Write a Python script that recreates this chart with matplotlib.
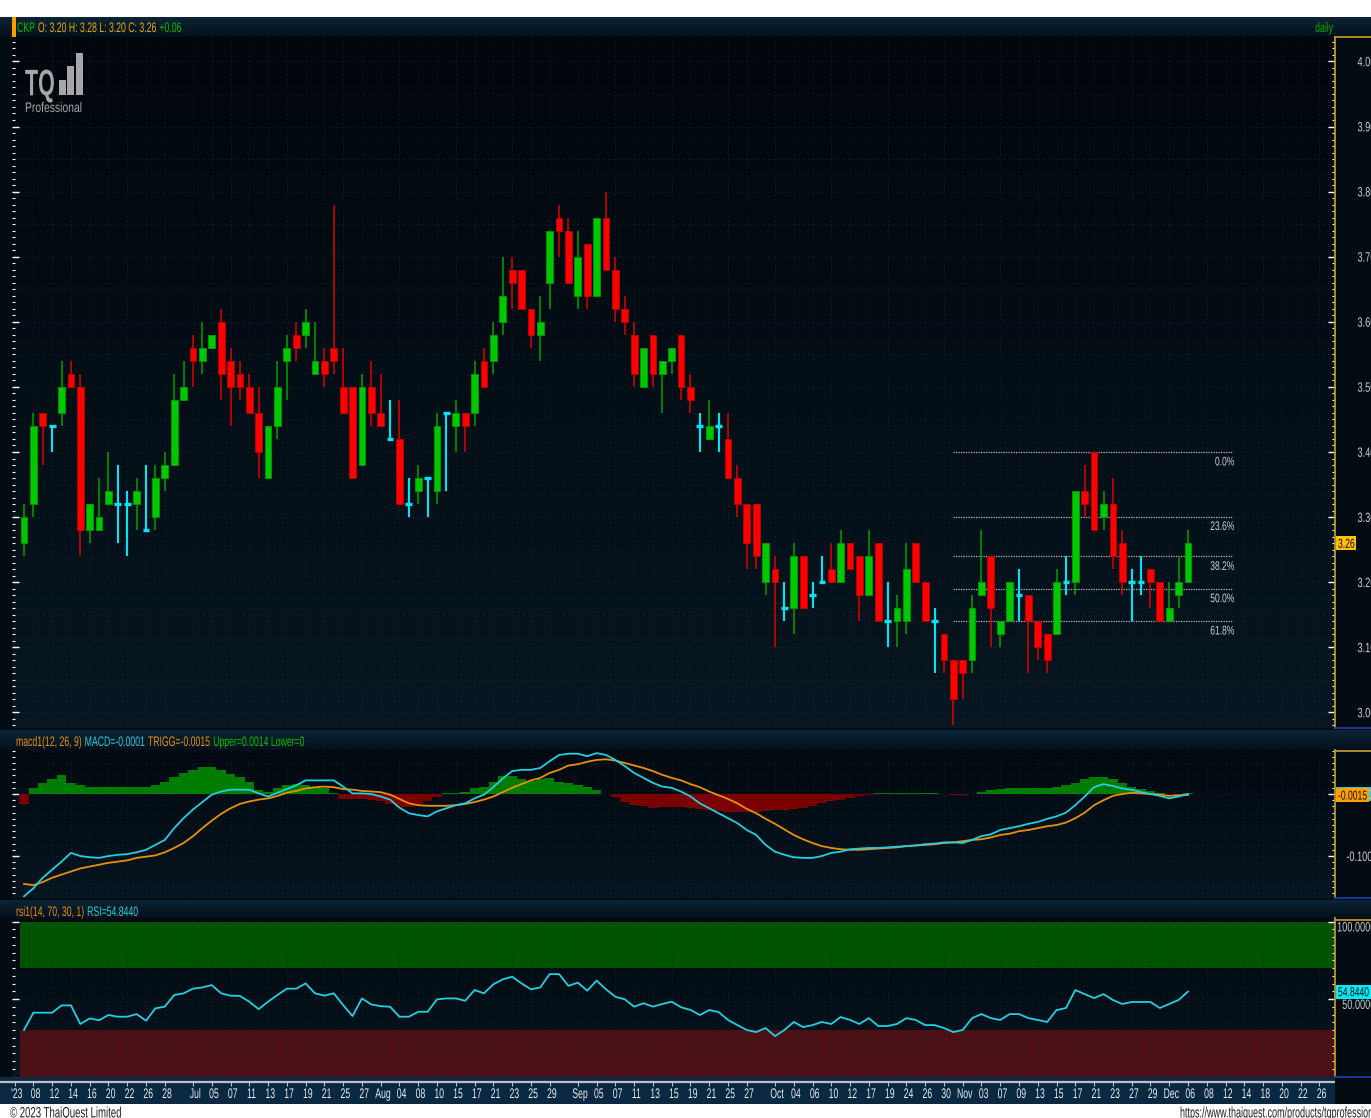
import numpy as np
import matplotlib
matplotlib.use("Agg")
import matplotlib.pyplot as plt
import matplotlib.transforms as mtransforms
from matplotlib.colors import LinearSegmentedColormap
from matplotlib.patches import Rectangle, PathPatch
from matplotlib.lines import Line2D
from matplotlib.textpath import TextPath
from matplotlib.font_manager import FontProperties
from matplotlib.ticker import MultipleLocator, FixedLocator

# ---- CKP daily (bar 0 = 7 Jun 2023, bar 124 = 6 Dec 2023) ----
opens = [3.26, 3.32, 3.46, 3.44, 3.46, 3.52, 3.50, 3.28, 3.28, 3.32,
         3.32, 3.32, 3.32, 3.28, 3.30, 3.36, 3.38, 3.48, 3.56, 3.54,
         3.56, 3.60, 3.54, 3.52, 3.50, 3.46, 3.36, 3.44, 3.54, 3.58,
         3.58, 3.52, 3.54, 3.56, 3.50, 3.50, 3.38, 3.50, 3.46, 3.42,
         3.42, 3.32, 3.34, 3.36, 3.34, 3.46, 3.44, 3.46, 3.46, 3.54,
         3.54, 3.60, 3.68, 3.68, 3.62, 3.58, 3.66, 3.76, 3.74, 3.64,
         3.72, 3.64, 3.76, 3.68, 3.62, 3.58, 3.50, 3.58, 3.52, 3.54,
         3.58, 3.50, 3.44, 3.42, 3.44, 3.42, 3.36, 3.32, 3.32, 3.20,
         3.22, 3.16, 3.16, 3.24, 3.18, 3.20, 3.22, 3.20, 3.26, 3.24,
         3.18, 3.26, 3.14, 3.14, 3.14, 3.26, 3.20, 3.14, 3.12, 3.08,
         3.08, 3.08, 3.18, 3.24, 3.12, 3.14, 3.18, 3.18, 3.14, 3.12,
         3.12, 3.20, 3.20, 3.34, 3.40, 3.30, 3.32, 3.26, 3.20, 3.20,
         3.22, 3.20, 3.14, 3.18, 3.20]
highs = [3.32, 3.46, 3.46, 3.44, 3.54, 3.54, 3.52, 3.32, 3.36, 3.40,
         3.38, 3.34, 3.36, 3.38, 3.38, 3.40, 3.52, 3.54, 3.58, 3.60,
         3.58, 3.62, 3.56, 3.54, 3.52, 3.50, 3.44, 3.54, 3.58, 3.60,
         3.62, 3.60, 3.56, 3.78, 3.56, 3.50, 3.52, 3.54, 3.52, 3.48,
         3.48, 3.36, 3.38, 3.36, 3.46, 3.46, 3.48, 3.46, 3.54, 3.56,
         3.60, 3.70, 3.70, 3.68, 3.62, 3.64, 3.74, 3.78, 3.76, 3.74,
         3.72, 3.76, 3.80, 3.70, 3.64, 3.60, 3.56, 3.58, 3.54, 3.56,
         3.58, 3.52, 3.46, 3.48, 3.46, 3.46, 3.38, 3.32, 3.32, 3.26,
         3.24, 3.20, 3.26, 3.24, 3.20, 3.24, 3.26, 3.28, 3.26, 3.24,
         3.28, 3.26, 3.20, 3.18, 3.26, 3.26, 3.20, 3.16, 3.12, 3.08,
         3.08, 3.18, 3.28, 3.24, 3.14, 3.20, 3.22, 3.18, 3.14, 3.12,
         3.22, 3.24, 3.34, 3.38, 3.40, 3.34, 3.36, 3.28, 3.22, 3.24,
         3.22, 3.20, 3.20, 3.24, 3.28]
lows = [3.24, 3.30, 3.38, 3.40, 3.44, 3.50, 3.24, 3.26, 3.28, 3.32,
        3.26, 3.24, 3.28, 3.28, 3.28, 3.34, 3.38, 3.48, 3.50, 3.52,
        3.56, 3.48, 3.44, 3.48, 3.46, 3.36, 3.36, 3.42, 3.48, 3.54,
        3.56, 3.52, 3.50, 3.52, 3.46, 3.36, 3.38, 3.44, 3.44, 3.42,
        3.32, 3.30, 3.32, 3.30, 3.32, 3.34, 3.40, 3.40, 3.44, 3.50,
        3.52, 3.58, 3.62, 3.62, 3.56, 3.54, 3.62, 3.70, 3.66, 3.62,
        3.62, 3.64, 3.68, 3.60, 3.58, 3.50, 3.50, 3.50, 3.46, 3.52,
        3.48, 3.46, 3.40, 3.42, 3.40, 3.36, 3.30, 3.22, 3.22, 3.18,
        3.10, 3.14, 3.12, 3.16, 3.16, 3.20, 3.20, 3.20, 3.22, 3.14,
        3.18, 3.14, 3.10, 3.10, 3.12, 3.20, 3.14, 3.06, 3.06, 2.98,
        3.02, 3.06, 3.18, 3.10, 3.10, 3.14, 3.14, 3.06, 3.08, 3.06,
        3.12, 3.18, 3.18, 3.30, 3.28, 3.28, 3.22, 3.18, 3.14, 3.18,
        3.16, 3.14, 3.14, 3.16, 3.20]
closes = [3.30, 3.44, 3.44, 3.44, 3.50, 3.50, 3.28, 3.32, 3.30, 3.34,
          3.32, 3.32, 3.34, 3.28, 3.36, 3.38, 3.48, 3.50, 3.54, 3.56,
          3.58, 3.52, 3.50, 3.50, 3.46, 3.40, 3.44, 3.50, 3.56, 3.56,
          3.60, 3.54, 3.52, 3.54, 3.46, 3.36, 3.50, 3.46, 3.44, 3.42,
          3.32, 3.32, 3.36, 3.36, 3.44, 3.46, 3.46, 3.44, 3.52, 3.50,
          3.58, 3.64, 3.66, 3.62, 3.58, 3.60, 3.74, 3.74, 3.66, 3.70,
          3.64, 3.76, 3.68, 3.62, 3.60, 3.52, 3.56, 3.52, 3.54, 3.56,
          3.50, 3.48, 3.44, 3.44, 3.44, 3.36, 3.32, 3.26, 3.24, 3.26,
          3.20, 3.16, 3.24, 3.16, 3.18, 3.20, 3.20, 3.26, 3.22, 3.18,
          3.24, 3.14, 3.14, 3.16, 3.22, 3.20, 3.14, 3.14, 3.08, 3.02,
          3.06, 3.16, 3.20, 3.16, 3.14, 3.20, 3.18, 3.14, 3.10, 3.08,
          3.20, 3.20, 3.34, 3.32, 3.28, 3.32, 3.24, 3.20, 3.20, 3.20,
          3.20, 3.14, 3.16, 3.20, 3.26]

macd_line = [-0.165, -0.152, -0.135, -0.122, -0.109, -0.095, -0.100, -0.102, -0.103, -0.100,
             -0.098, -0.097, -0.094, -0.090, -0.082, -0.074, -0.055, -0.039, -0.025, -0.013,
             -0.001, 0.004, 0.007, 0.007, 0.007, 0.001, -0.004, 0.002, 0.008, 0.014,
             0.022, 0.022, 0.022, 0.022, 0.012, 0.001, 0.001, 0.000, -0.004, -0.009,
             -0.022, -0.031, -0.034, -0.036, -0.028, -0.023, -0.018, -0.015, -0.007, -0.001,
             0.011, 0.025, 0.037, 0.039, 0.039, 0.042, 0.053, 0.063, 0.065, 0.065,
             0.061, 0.066, 0.063, 0.055, 0.045, 0.034, 0.026, 0.018, 0.012, 0.010,
             0.004, -0.004, -0.015, -0.023, -0.031, -0.039, -0.047, -0.058, -0.066, -0.082,
             -0.093, -0.098, -0.102, -0.103, -0.103, -0.100, -0.095, -0.093, -0.089, -0.088,
             -0.087, -0.087, -0.086, -0.085, -0.084, -0.083, -0.081, -0.080, -0.078, -0.078,
             -0.079, -0.074, -0.068, -0.065, -0.058, -0.055, -0.052, -0.048, -0.045, -0.040,
             -0.036, -0.030, -0.018, -0.004, 0.011, 0.016, 0.013, 0.009, 0.007, 0.003,
             0.000, -0.003, -0.007, -0.004, -0.0001]
macd_trigger = [-0.145, -0.147, -0.142, -0.135, -0.130, -0.125, -0.120, -0.117, -0.114, -0.111,
                -0.109, -0.107, -0.103, -0.101, -0.099, -0.094, -0.087, -0.079, -0.068, -0.055,
                -0.043, -0.032, -0.023, -0.016, -0.012, -0.009, -0.007, -0.003, 0.002, 0.005,
                0.009, 0.011, 0.012, 0.011, 0.008, 0.007, 0.005, 0.004, 0.003, -0.001,
                -0.008, -0.015, -0.018, -0.019, -0.019, -0.019, -0.018, -0.016, -0.013, -0.009,
                -0.004, 0.003, 0.010, 0.016, 0.022, 0.026, 0.034, 0.039, 0.046, 0.048,
                0.052, 0.055, 0.056, 0.054, 0.050, 0.046, 0.042, 0.037, 0.031, 0.026,
                0.022, 0.016, 0.011, 0.004, -0.002, -0.008, -0.015, -0.024, -0.031, -0.040,
                -0.048, -0.057, -0.066, -0.073, -0.079, -0.084, -0.087, -0.089, -0.090, -0.090,
                -0.089, -0.088, -0.087, -0.086, -0.084, -0.083, -0.082, -0.081, -0.079, -0.078,
                -0.076, -0.074, -0.073, -0.070, -0.066, -0.064, -0.060, -0.058, -0.055, -0.052,
                -0.050, -0.046, -0.039, -0.030, -0.018, -0.010, -0.003, 0.000, 0.002, 0.001,
                0.000, -0.001, -0.003, -0.002, -0.0015]
macd_hist = [-0.016, 0.010, 0.018, 0.025, 0.030, 0.018, 0.014, 0.011, 0.012, 0.011,
             0.011, 0.011, 0.012, 0.011, 0.015, 0.020, 0.027, 0.034, 0.039, 0.043,
             0.043, 0.039, 0.032, 0.027, 0.020, 0.007, 0.004, 0.010, 0.014, 0.016,
             0.014, 0.012, 0.010, 0.002, -0.0075, -0.0075, -0.0075, -0.009, -0.012, -0.016,
             -0.0215, -0.0215, -0.016, -0.011, -0.004, 0.002, 0.002, 0.004, 0.009, 0.011,
             0.020, 0.0285, 0.0285, 0.025, 0.0215, 0.025, 0.026, 0.020, 0.018, 0.014,
             0.011, 0.007, 0.000, -0.004, -0.013, -0.017, -0.019, -0.023, -0.0215, -0.0215,
             -0.0215, -0.023, -0.024, -0.025, -0.027, -0.029, -0.029, -0.029, -0.029, -0.027,
             -0.026, -0.026, -0.024, -0.022, -0.019, -0.015, -0.012, -0.009, -0.006, -0.003,
             -0.001, 0.001, 0.002, 0.002, 0.002, 0.002, 0.001, 0.001, 0.000, -0.002,
             -0.002, 0.000, 0.004, 0.006, 0.008, 0.009, 0.010, 0.010, 0.010, 0.010,
             0.012, 0.014, 0.018, 0.024, 0.028, 0.028, 0.024, 0.018, 0.012, 0.008,
             0.005, 0.002, 0.000, -0.001, 0.001]
rsi = [30.0, 41.2, 41.2, 41.2, 45.9, 45.9, 33.9, 37.5, 36.3, 39.7,
       38.6, 38.6, 40.3, 36.0, 44.0, 45.1, 52.6, 53.7, 56.7, 57.5,
       59.0, 53.7, 52.2, 52.0, 48.3, 43.5, 48.3, 52.6, 56.7, 56.7,
       60.1, 53.7, 52.2, 53.7, 46.1, 39.0, 50.4, 46.5, 45.4, 45.0,
       38.6, 38.6, 41.8, 41.8, 49.8, 50.4, 50.4, 48.9, 55.8, 53.7,
       59.5, 62.7, 64.4, 60.1, 56.3, 57.5, 66.1, 66.1, 58.5, 60.6,
       55.4, 61.9, 56.3, 51.5, 49.8, 45.1, 47.3, 45.1, 46.8, 48.3,
       44.7, 43.0, 39.7, 42.9, 41.6, 36.5, 33.2, 30.0, 28.7, 31.3,
       26.1, 30.0, 35.2, 31.9, 33.2, 35.2, 33.9, 38.4, 36.5, 33.9,
       37.7, 32.6, 32.6, 33.9, 37.7, 36.5, 33.2, 33.2, 31.3, 28.7,
       30.0, 37.7, 40.3, 37.7, 36.5, 40.3, 40.3, 37.7, 36.5, 35.2,
       42.9, 44.2, 55.8, 53.2, 50.6, 53.2, 49.4, 46.8, 48.1, 48.1,
       48.1, 44.2, 46.8, 49.4, 54.844]

tick_pos = [-1, 1, 3, 5, 7, 9, 11, 13, 15, 18, 20, 22, 24, 26, 28, 30, 32, 34, 36,
            38, 40, 42, 44, 46, 48, 50, 52, 54, 56, 59, 61, 63, 65, 67, 69, 71, 73, 75, 77,
            80, 82, 84, 86, 88, 90, 92, 94, 96, 98, 100, 102, 104, 106, 108, 110, 112, 114,
            116, 118, 120, 122, 124, 126, 128, 130, 132, 134, 136, 138]
tick_lab = ["'23", "08", "12", "14", "16", "20", "22", "26", "28",
            "Jul", "05", "07", "11", "13", "17", "19", "21", "25", "27",
            "Aug", "04", "08", "10", "15", "17", "21", "23", "25", "29",
            "Sep", "05", "07", "11", "13", "15", "19", "21", "25", "27",
            "Oct", "04", "06", "10", "12", "17", "19", "24", "26", "30",
            "Nov", "03", "07", "09", "13", "15", "17", "21", "23", "27", "29",
            "Dec", "06", "08", "12", "14", "18", "20", "22", "26"]

price_ticks = [3.0, 3.1, 3.2, 3.3, 3.4, 3.5, 3.6, 3.7, 3.8, 3.9, 4.0]
macd_ticks = [-0.1, 0.0]
rsi_ticks = [50, 100]

fib_high, fib_low = 3.40, 2.98
fib_ratios = [0.0, 0.236, 0.382, 0.5, 0.618]
fib_from, fib_to = 99, 128.8

# ---- layout helpers (pixel coords of the 1371x1118 picture, y from the top) ----
W, H = 1371, 1118
BAR, X0 = 9.387, 24.0
plt.rcParams['font.family'] = ['Liberation Sans', 'DejaVu Sans']
FP = FontProperties(family='Liberation Sans')
FPB = FontProperties(family='Liberation Sans', weight='bold')
IDT = mtransforms.IdentityTransform()

fig = plt.figure(figsize=(W / 100, H / 100), dpi=100, facecolor='white')


def px_axes(x0, y0, x1, y1):
    return fig.add_axes([x0 / W, 1 - y1 / H, (x1 - x0) / W, (y1 - y0) / H])


def xl(a, b):
    return ((a - X0) / BAR, (b - X0) / BAR)


def gradient(ax, top, bottom):
    cm = LinearSegmentedColormap.from_list('g', [bottom, top])
    ax.imshow(np.linspace(0, 1, 64).reshape(-1, 1), cmap=cm, origin='lower',
              extent=[0, 1, 0, 1], transform=ax.transAxes, aspect='auto',
              zorder=0, interpolation='bilinear')


def fline(x0, y0, x1, y1, color, lw=1.0):
    fig.add_artist(Line2D([x0, x1], [H - y0, H - y1], transform=IDT, color=color, lw=lw,
                          zorder=15))


def frect(x0, y0, x1, y1, color, z=16):
    fig.add_artist(Rectangle((x0, H - y1), x1 - x0, y1 - y0, transform=IDT, color=color,
                             lw=0, zorder=z))


def ctext(x, y, s, color, em, sx=0.64, ha='left', z=20, prop=FP):
    # condensed terminal font: glyph outlines squeezed horizontally
    tp = TextPath((0, 0), s, size=em, prop=prop)
    w = tp.get_extents().x1 * sx
    x0 = x - w if ha == 'right' else (x - w / 2 if ha == 'center' else x)
    tr = mtransforms.Affine2D().scale(sx, 1).translate(x0, H - y - 0.36 * em)
    fig.add_artist(PathPatch(tp, transform=tr, fc=color, ec='none', lw=0, zorder=z))
    return w


def chain(x, y, parts, em=13.8, sx=0.63):
    for s, col in parts:
        x += ctext(x, y, s, col, em, sx) + 3.5


def ypx(ax, v):
    return H - ax.transData.transform((0, v))[1]


def header(y0, y1):
    hx = px_axes(0, y0, W, y1)
    gradient(hx, '#0d2435', '#03101a')
    hx.set_xlim(0, 1); hx.set_ylim(0, 1)
    hx.axis('off')


GOLD = '#b8962e'
GRID = '#0d2434'
LABEL = '#c8ccd2'


def panel(ax, ylim):
    ax.set_facecolor('none')
    ax.set_xlim(*xl(12, 1335))
    ax.set_ylim(*ylim)
    for s in ['top', 'bottom', 'left']:
        ax.spines[s].set_visible(False)
    ax.spines['right'].set_color(GOLD)
    ax.spines['right'].set_linewidth(1.3)
    ax.set_xticks(tick_pos)
    ax.tick_params(axis='x', length=0, labelbottom=False)
    ax.tick_params(axis='y', which='both', direction='in', color='white', left=True,
                   right=True, labelleft=False, labelright=False)
    ax.tick_params(axis='y', which='major', length=5, width=1)
    ax.tick_params(axis='y', which='minor', length=2.5, width=0.8)
    ax.grid(True, axis='x', color=GRID, ls=(0, (1, 3)), lw=0.8)


def value_box(ax, v, s, fc):
    y = ypx(ax, v)
    tp_w = ctext(1338, y, s, '#101010', 13, 0.66, z=22)
    frect(1336, y - 7, 1336 + tp_w + 4, y + 7, fc, z=21)


# dark backdrop of the whole terminal window
bg = px_axes(0, 17, W, 1104)
bg.set_facecolor('#020a12')
bg.set_xticks([]); bg.set_yticks([])
for s in bg.spines.values():
    s.set_visible(False)

header(17, 37)
header(730, 750)
header(900, 918)

# ---- price panel ----
ax = px_axes(12, 37, 1335, 728)
gradient(ax, '#01060c', '#071620')
panel(ax, (2.976, 4.0375))
ax.yaxis.set_major_locator(FixedLocator(price_ticks))
ax.yaxis.set_minor_locator(MultipleLocator(0.01))
for lv in np.arange(3.0, 4.01, 0.05):
    ax.axhline(lv, color=GRID, ls=(0, (1, 3)), lw=0.8, zorder=1)

x = np.arange(len(closes))
o, h, l, c = (np.array(v) for v in (opens, highs, lows, closes))
up, dn, dj = c > o, c < o, c == o
BW = 0.72
ax.vlines(x[up], l[up], h[up], color='#00a000', lw=1.1, zorder=3)
ax.bar(x[up], c[up] - o[up], bottom=o[up], width=BW, color='#00c800',
       edgecolor='#009a00', lw=0.6, zorder=4)
ax.vlines(x[dn], l[dn], h[dn], color='#e00000', lw=1.1, zorder=3)
ax.bar(x[dn], o[dn] - c[dn], bottom=c[dn], width=BW, color='#ff0000',
       edgecolor='#c00000', lw=0.6, zorder=4)
ax.vlines(x[dj], l[dj], h[dj], color='#00e4f4', lw=1.5, zorder=3)
ax.hlines(c[dj], x[dj] - BW / 2, x[dj] + BW / 2, color='#00e4f4', lw=2.4, zorder=4)

fib_right = ax.transData.transform((fib_to, 0))[0]
for r in fib_ratios:
    lv = fib_high - r * (fib_high - fib_low)
    ax.hlines(lv, fib_from, fib_to, colors='#b4bcc4', linestyles=(0, (1, 1)), lw=0.9, zorder=2)
    ctext(fib_right + 1, ypx(ax, lv) + 9, f'{r * 100:.1f}%', '#c8d0d8', 12.5, 0.68, ha='right')

for v in price_ticks:
    ctext(1375, ypx(ax, v), f'{v:.2f}', LABEL, 13.5, 0.68, ha='right')
value_box(ax, closes[-1], f'{closes[-1]:.2f}', '#ffc000')

# ---- MACD panel ----
mx = px_axes(12, 750, 1335, 898)
gradient(mx, '#020910', '#061520')
panel(mx, (-0.1677, 0.071))
mx.yaxis.set_major_locator(FixedLocator(macd_ticks))
mx.yaxis.set_minor_locator(MultipleLocator(0.01))
for lv in (-0.15, -0.1, -0.05, 0.0, 0.05):
    mx.axhline(lv, color=GRID, ls=(0, (1, 3)), lw=0.8, zorder=1)
hist = np.array(macd_hist)
mx.bar(x, hist, width=1.0, color=np.where(hist >= 0, '#007c00', '#7a0000'), lw=0, zorder=2)
mx.plot(x, macd_trigger, color='#e8900c', lw=1.3, zorder=4)
mx.plot(x, macd_line, color='#22cfe0', lw=1.3, zorder=5)
for v in macd_ticks:
    ctext(1372, ypx(mx, v), f'{v:.3f}', LABEL, 13.5, 0.68, ha='right')
frect(1336, ypx(mx, macd_line[-1]) - 7, 1371, ypx(mx, macd_line[-1]) + 7, '#22cfe0', z=19)
value_box(mx, macd_trigger[-1], f'{macd_trigger[-1]:.4f}', '#ffa000')

# ---- RSI panel ----
rx = px_axes(12, 918, 1335, 1077)
gradient(rx, '#020910', '#061520')
panel(rx, (-0.3, 102.3))
rx.yaxis.set_major_locator(FixedLocator(rsi_ticks))
rx.yaxis.set_minor_locator(MultipleLocator(5))
rx.axhspan(70, 100, xmin=0.006, color='#005400', lw=0, zorder=1)
rx.axhspan(0, 30, xmin=0.006, color='#4b1016', lw=0, zorder=1)
rx.axhline(50, color=GRID, ls=(0, (1, 3)), lw=0.8, zorder=1)
rx.plot(x, rsi, color='#22cfe0', lw=1.3, zorder=4)
for v in rsi_ticks:
    ctext(1375, ypx(rx, v) + 5, f'{v:.4f}', LABEL, 13.5, 0.68, ha='right')
value_box(rx, rsi[-1], f'{rsi[-1]:.4f}', '#00eaf8')

# ---- date axis strip ----
xa = px_axes(0, 1077, 1335, 1104)
xa.set_facecolor('#0a2842')
xa.set_xlim(*xl(0, 1335)); xa.set_ylim(0, 1)
xa.set_xticks([]); xa.set_yticks([])
for s in xa.spines.values():
    s.set_visible(False)
xa.axhline(0.8, color='#b8c0c8', lw=1.6)
xa.vlines(tick_pos, 0.68, 0.8, color='#b8c0c8', lw=0.8)
for p, s in zip(tick_pos, tick_lab):
    xp = xa.transData.transform((p, 0))[0]
    ctext(xp + 2, 1093, s, '#e8ecf0', 14, 0.62, ha='center')

# right-axis frame corners
for y_top, y_bot in ((37, 728), (751, 898), (920, 1077)):
    fline(1335, y_top, W, y_top, GOLD, 1.3)
    fline(1335, y_bot, W, y_bot, '#1c3aa8', 1.3)

# ---- header texts ----
frect(12, 17, 16, 37, '#ff9a00')
chain(17, 27, [('CKP', '#00c000'), ('O: 3.20 H: 3.28 L: 3.20 C: 3.26', '#e8a800'),
               ('+0.06', '#00c000')])
ctext(1333, 27, 'daily', '#00b000', 13.5, 0.64, ha='right')
chain(16, 741, [('macd1(12, 26, 9)', '#e8900c'), ('MACD=-0.0001', '#22cfe0'),
                ('TRIGG=-0.0015', '#e8900c'), ('Upper=0.0014 Lower=0', '#00c000')])
chain(16, 911, [('rsi1(14, 70, 30, 1)', '#e8900c'), ('RSI=54.8440', '#22cfe0')])

# ---- TQ Professional logo ----
LOGO = '#a6a6a6'
ctext(25, 82, 'TQ', LOGO, 37, 0.58, prop=FPB)
for bx, btop in ((59, 80), (67, 66), (76, 53)):
    frect(bx, btop, bx + 7, 95, LOGO, z=17)
fline(57, 91, 85, 67, '#02080e', 2.2)
ctext(25, 107, 'Professional', LOGO, 14, 0.74)

# ---- footer ----
ctext(10, 1112, '\u00a9 2023 ThaiQuest Limited', '#202020', 15, 0.64)
ctext(1180, 1112, 'https://www.thaiquest.com/products/tqprofessional', '#202020', 15, 0.6)

fig.savefig('out.png', dpi=100, facecolor='white')
